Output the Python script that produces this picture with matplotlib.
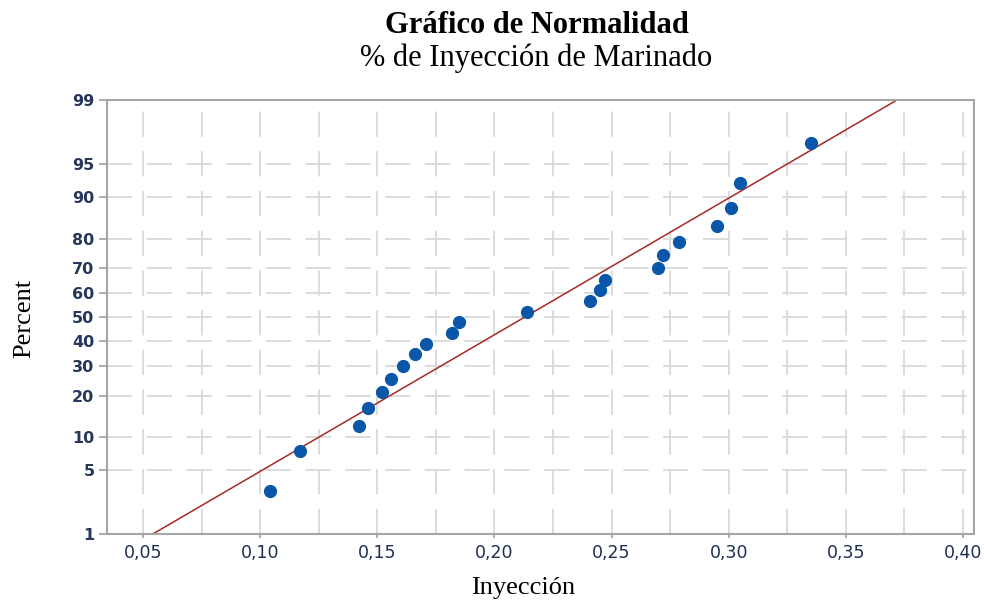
import numpy as np
import matplotlib
matplotlib.use("Agg")
import matplotlib.pyplot as plt
from statistics import NormalDist

# Datos (Inyección vs. porcentaje acumulado)
inyeccion = [0.104, 0.117, 0.142, 0.146, 0.152, 0.156, 0.161, 0.166, 0.171, 0.182, 0.185,
             0.214, 0.241, 0.245, 0.247, 0.270, 0.272, 0.279, 0.295, 0.301, 0.305, 0.335]
percent = [3.1, 7.6, 12.1, 16.5, 21.0, 25.4, 29.9, 34.4, 38.8, 43.3, 47.8,
           52.2, 56.7, 61.2, 65.6, 70.1, 74.6, 79.0, 83.5, 87.9, 92.4, 96.9]

y_ticks = [1, 5, 10, 20, 30, 40, 50, 60, 70, 80, 90, 95, 99]
x_ticks = [0.05, 0.10, 0.15, 0.20, 0.25, 0.30, 0.35, 0.40]
x_grid = [0.05, 0.075, 0.10, 0.125, 0.15, 0.175, 0.20, 0.225, 0.25, 0.275,
          0.30, 0.325, 0.35, 0.375, 0.40]

nd = NormalDist()
_ppf = np.vectorize(nd.inv_cdf, otypes=[float])
_cdf = np.vectorize(nd.cdf, otypes=[float])


def to_z(p):
    p = np.clip(np.asarray(p, dtype=float) / 100.0, 1e-9, 1 - 1e-9)
    return _ppf(p)


def from_z(z):
    return _cdf(np.asarray(z, dtype=float)) * 100.0


# Recta de ajuste normal (media y desviación de los datos)
mu = np.mean(inyeccion)
sigma = np.std(inyeccion, ddof=1)
p_line = np.array([1, 99])
x_line = mu + sigma * to_z(p_line)

fig = plt.figure(figsize=(9.84, 6), dpi=100)
ax = fig.add_axes([0.1087, 0.11, 0.8811, 0.7233])
ax.set_yscale('function', functions=(to_z, from_z))

# Cuadrícula discontinua estilo Minitab
grid_kw = dict(color='#d9d9d9', linewidth=1.3, linestyle=(0, (14, 8)), zorder=0)
for g in x_grid:
    ax.axvline(g, **grid_kw)
for t in y_ticks[1:-1]:
    ax.axhline(t, **grid_kw)

ax.plot(x_line, p_line, color='#a52a2a', linewidth=1.1, zorder=2)
ax.plot(inyeccion, percent, 'o', color='#0a56a8', markersize=8.5, zorder=3)

ax.set_xlim(0.0346, 0.4047)
ax.set_ylim(1, 99)
ax.set_yticks(y_ticks)
ax.set_yticklabels([str(t) for t in y_ticks])
ax.set_xticks(x_ticks)
ax.set_xticklabels([('%.2f' % t).replace('.', ',') for t in x_ticks])
ax.minorticks_off()

for s in ax.spines.values():
    s.set_color('#a6a6a6')
    s.set_linewidth(1.5)

ax.tick_params(axis='y', length=6, width=1.3, color='#a6a6a6', pad=3,
               labelsize=11.5, labelcolor='#26375a')
ax.tick_params(axis='x', length=3, width=1.3, color='#a6a6a6', pad=4,
               labelsize=12.5, labelcolor='#1f2f52')
for lab in ax.get_yticklabels():
    lab.set_fontweight('bold')

fig.text(0.546, 0.957, 'Gráfico de Normalidad', ha='center', va='center',
         family='Liberation Serif', fontweight='bold', fontsize=22)
fig.text(0.545, 0.903, '% de Inyección de Marinado', ha='center', va='center',
         family='Liberation Serif', fontsize=22)
fig.text(0.532, 0.01, 'Inyección', ha='center', va='baseline',
         family='Liberation Serif', fontsize=19)
fig.text(0.025, 0.47, 'Percent', ha='center', va='center', rotation=90,
         family='Liberation Serif', fontsize=19)

fig.savefig('out.png', dpi=100, facecolor='white')
